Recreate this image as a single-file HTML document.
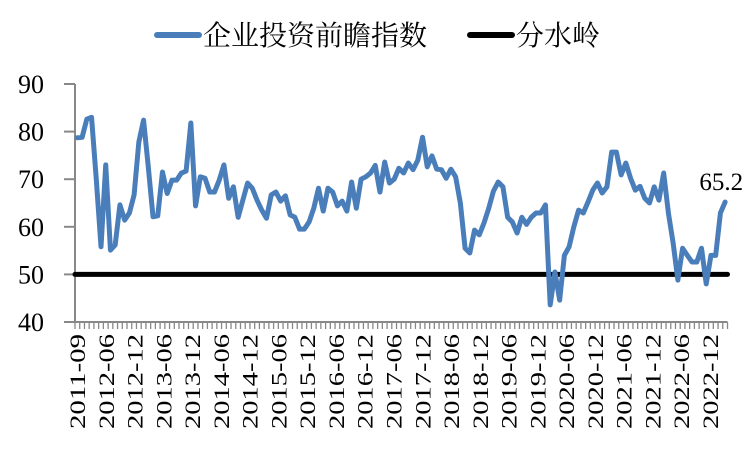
<!DOCTYPE html>
<html><head><meta charset="utf-8"><style>
html,body{margin:0;padding:0;background:#fff;}
svg{display:block;}
</style></head><body>
<svg id="chart" width="750" height="450" xmlns="http://www.w3.org/2000/svg">
  <g id="legend">
    <line x1="157" y1="35" x2="199" y2="35" stroke="#4a7ebb" stroke-width="6" stroke-linecap="round"/>
    <text x="203" y="45" font-family="'Liberation Serif','Noto Serif CJK SC','Noto Sans CJK SC',serif" font-size="28">企业投资前瞻指数</text>
    <line x1="470" y1="35" x2="512" y2="35" stroke="#000" stroke-width="6" stroke-linecap="round"/>
    <text x="516" y="45" font-family="'Liberation Serif','Noto Serif CJK SC','Noto Sans CJK SC',serif" font-size="28">分水岭</text>
  </g>
  <g id="axes"></g>
  <g id="marks"></g>
</svg>
<script>
const values = [78.7,78.8,82.6,83,70,55.8,73,55.1,56.2,64.6,61.4,62.9,66.7,77.8,82.4,72.6,62.1,62.3,71.5,67,69.8,69.8,71.3,71.7,81.8,64.4,70.5,70.2,67.3,67.3,69.8,73,66,68.4,62,65.6,69.2,68.1,65.6,63.5,61.8,66.7,67.3,65.4,66.5,62.5,62,59.5,59.5,61,63.9,68.1,63.3,68.1,67.3,64.4,65.4,63.3,69.4,63.9,70,70.5,71.3,72.9,67.3,73.6,69.2,70,72.3,71.3,73.4,72,74,78.8,72.6,74.9,72.1,72,70.2,72.1,70.5,65,55.5,54.5,59.3,58.3,60.8,63.9,67.5,69.4,68.4,62,61,58.7,62,60.5,62,62.9,62.9,64.6,43.6,50.5,44.6,54,55.8,60,63.5,62.9,65.2,67.7,69.2,67.1,68.4,75.7,75.7,70.9,73.4,70.2,67.7,68.5,66,65,68.4,65.6,71.3,62.9,56.6,48.8,55.5,54,52.6,52.6,55.5,48,54,54,62.9,65.2];
const threshold = [50];
const yTicks = [40,50,60,70,80,90];
const xLabels = ["2011-09","2012-06","2012-12","2013-06","2013-12","2014-06","2014-12","2015-06","2015-12","2016-06","2016-12","2017-06","2017-12","2018-06","2018-12","2019-06","2019-12","2020-06","2020-12","2021-06","2021-12","2022-06","2022-12"];
const endLabel = ["65.2"];

const NS="http://www.w3.org/2000/svg";
const L=75,R=727.5,T=84,B=322,yMin=40,yMax=90;
const n=values.length, cw=(R-L)/n;
const xs=i=>L+(i+0.5)*cw;
const ys=v=>B-(v-yMin)/(yMax-yMin)*(B-T);
function mk(tag,attrs,parent){const e=document.createElementNS(NS,tag);for(const k in attrs)e.setAttribute(k,attrs[k]);parent.appendChild(e);return e;}
const axes=document.getElementById('axes'), marks=document.getElementById('marks');
const serif="'Liberation Serif',serif";

let e=mk('line',{x1:L,y1:T,x2:L,y2:B,stroke:'#888','stroke-width':2},axes);


e=mk('line',{x1:L,y1:B,x2:R,y2:B,stroke:'#888','stroke-width':2},axes);


yTicks.forEach(v=>{
  const t=mk('line',{x1:L-11,y1:ys(v),x2:L,y2:ys(v),stroke:'#888','stroke-width':2},axes);
  
  
  const tx=mk('text',{x:44,y:ys(v)+9,'text-anchor':'end','font-family':serif,'font-size':26},axes);
  
  
  tx.textContent=v;
});
for(let i=0;i<=n;i++){
  const t=mk('line',{x1:L+i*cw,y1:B,x2:L+i*cw,y2:B+7,stroke:'#888','stroke-width':1.3},axes);
  
  
}
const lx0=77,lx1=710;
xLabels.forEach((s,k)=>{
  const x=lx0+k*(lx1-lx0)/(xLabels.length-1);
  const tx=mk('text',{x:0,y:0,'text-anchor':'end','font-family':serif,'font-size':22,textLength:95,lengthAdjust:'spacingAndGlyphs',transform:`translate(${x+8},${B+12}) rotate(-90)`},axes);
  
  
  tx.textContent=s;
});
e=mk('line',{x1:L,y1:ys(threshold[0]),x2:R,y2:ys(threshold[0]),stroke:'#000','stroke-width':5,'stroke-linecap':'round'},marks);


const pts=values.map((v,i)=>xs(i).toFixed(2)+','+ys(v).toFixed(2)).join(' ');
e=mk('polyline',{points:pts,fill:'none',stroke:'#4a7ebb','stroke-width':5,'stroke-linejoin':'round','stroke-linecap':'round'},marks);


e=mk('text',{x:xs(n-1)+18,y:ys(values[n-1])-12,'text-anchor':'end','font-family':serif,'font-size':25},marks);


e.textContent=endLabel[0];
</script>
</body></html>
